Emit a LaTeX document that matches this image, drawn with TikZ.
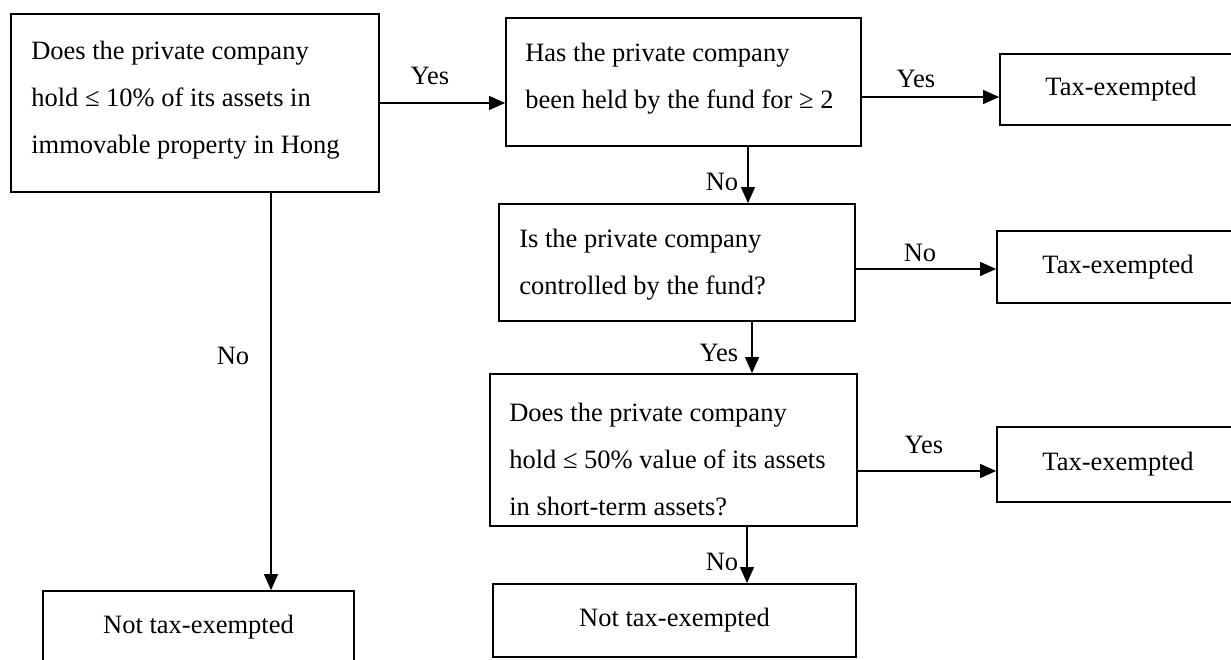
\documentclass[tikz,border=0pt]{standalone}
\usepackage{fontspec}
\setmainfont{Liberation Serif}
\usetikzlibrary{arrows.meta}
\begin{document}
\begin{tikzpicture}[x=1pt,y=-1pt,
  box/.style={draw, line width=1.8pt, inner sep=0pt},
  conn/.style={line width=1.2pt, -{Triangle[length=16pt,width=14pt]}},
  txt/.style={inner sep=0pt, align=left, anchor=west},
  lbl/.style={inner sep=0pt},
  every node/.style={font=\fontsize{26.5}{47}\selectfont}]
\useasboundingbox (0,0) rectangle (1231,660);

% question boxes
\node[box, minimum width=368pt, minimum height=178pt] (A) at (195,103) {};
\node[txt] (At) at ([xshift=21pt, yshift=3pt]A.west)
  {Does the private company\\hold ≤ 10\% of its assets in\\immovable property in Hong};

\node[box, minimum width=355pt, minimum height=128pt] (B) at (683.5,82) {};
\node[txt] (Bt) at ([xshift=20pt, yshift=3.5pt]B.west)
  {Has the private company\\been held by the fund for ≥ 2};

\node[box, minimum width=356pt, minimum height=117pt] (C) at (677,262.5) {};
\node[txt] (Ct) at ([xshift=21pt, yshift=-2.5pt]C.west)
  {Is the private company\\controlled by the fund?};

\node[box, minimum width=367pt, minimum height=152pt] (D) at (673.5,450) {};
\node[txt] (Dt) at ([xshift=20pt, yshift=-9.5pt]D.west)
  {Does the private company\\hold ≤ 50\% value of its assets\\in short-term assets?};

% outcome boxes
\node[box, minimum width=242pt, minimum height=71pt] (T1) at (1121,89.5) {Tax-exempted};
\node[box, minimum width=242pt, minimum height=72pt] (T2) at (1118,267) {Tax-exempted};
\node[box, minimum width=242pt, minimum height=75pt] (T3) at (1118,464.5) {Tax-exempted};
\node[box, minimum width=311pt, minimum height=73pt] (N1) at (198.5,627.5) {Not tax-exempted};
\node[box, minimum width=363pt, minimum height=73pt] (N2) at (674.5,620.5) {Not tax-exempted};

% connectors
\draw[conn] (A.east) -- (A.east -| B.west);
\coordinate (bT) at ([yshift=-15pt]B.east);
\draw[conn] (bT) -- (bT -| T1.west);
\coordinate (bC) at ([xshift=64.5pt]B.south);
\draw[conn] (bC) -- (bC |- C.north);
\coordinate (cT) at ([yshift=-6.5pt]C.east);
\draw[conn] (cT) -- (cT -| T2.west);
\coordinate (cD) at ([xshift=75pt]C.south);
\draw[conn] (cD) -- (cD |- D.north);
\coordinate (dT) at ([yshift=-21pt]D.east);
\draw[conn] (dT) -- (dT -| T3.west);
\coordinate (dN) at ([xshift=73.5pt]D.south);
\draw[conn] (dN) -- (dN |- N2.north);
\coordinate (aN) at ([xshift=76pt]A.south);
\draw[conn] (aN) -- (aN |- N1.north);

% labels
\node[lbl] (l1) at (430,76) {Yes};
\node[lbl] (l2) at (916,79) {Yes};
\node[lbl] (l3) at (722,182) {No};
\node[lbl] (l4) at (920,253) {No};
\node[lbl] (l5) at (719,353) {Yes};
\node[lbl] (l6) at (924,445) {Yes};
\node[lbl] (l7) at (722,562) {No};
\node[lbl] (l8) at (233,356) {No};
\end{tikzpicture}
\end{document}
